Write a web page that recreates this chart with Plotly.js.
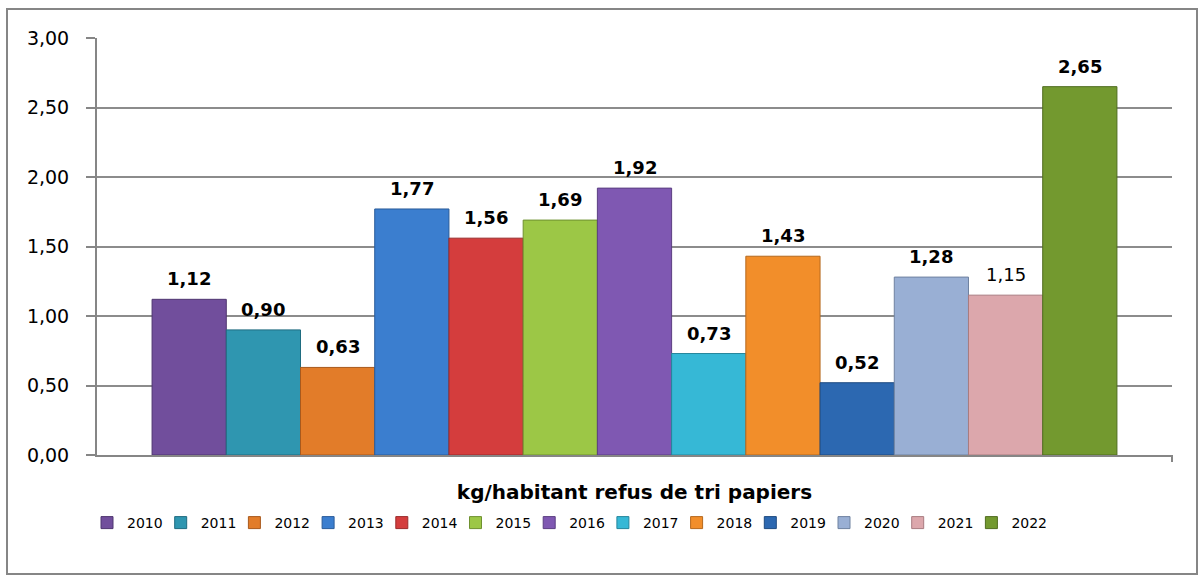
<!DOCTYPE html>
<html>
<head>
<meta charset="utf-8">
<script src="https://cdn.plot.ly/plotly-3.0.1.min.js"></script>
<style>
html,body{margin:0;padding:0;background:#fff;}
#chart{width:1201px;height:577px;}
</style>
</head>
<body>
<div id="chart"></div>
<script>
// Data
const chartTitle = "kg/habitant refus de tri papiers";
const years = ["2010","2011","2012","2013","2014","2015","2016","2017","2018","2019","2020","2021","2022"];
const values = [1.12, 0.90, 0.63, 1.77, 1.56, 1.69, 1.92, 0.73, 1.43, 0.52, 1.28, 1.15, 2.65];
const yTicks = [0, 0.5, 1, 1.5, 2, 2.5, 3];

// Styles
const barColors = ["#714e9c","#2f96b0","#e27c29","#3b7ecf","#d43d3d","#9cc746","#7f58b2","#36b8d6","#f28e2a","#2c68b1","#99afd4","#dca7ac","#73992f"];
const lineColors = ["#4f3670","#1f6c80","#a8591c","#2a5c9a","#9a2b2b","#6f9130","#5b3e82","#25869c","#b5681d","#1e4a80","#6f82a0","#a87c80","#516d20"];
const boldLabel = [true,true,true,true,true,true,true,true,true,true,true,false,true];

const FONT = "'DejaVu Sans', sans-serif";

const fmt = v => v.toFixed(2).replace(".", ",");

const traces = years.map((yr, i) => ({
  type: "bar",
  name: yr,
  x: [yr],
  y: [values[i]],
  width: 1,
  marker: { color: barColors[i], line: { color: lineColors[i], width: 1 } },
  hoverinfo: "skip"
}));

const annotations = years.map((yr, i) => ({
  x: i, y: values[i], xref: "x", yref: "y",
  text: boldLabel[i] ? "<b>" + fmt(values[i]) + "</b>" : fmt(values[i]),
  showarrow: false, yanchor: "bottom", xanchor: "center", yshift: 8,
  font: { family: FONT, size: 18, color: "#000" }
}));

const L = 97, R = 1172, T = 38, B = 455, W = 1201, H = 577;
const px = v => (v - L) / (R - L);
const py = v => (B - v) / (B - T);
const nCat = years.length;
const sidePad = 0.742;

const layout = {
  width: W, height: H,
  margin: { l: L, r: W - R, t: T, b: H - B, pad: 0 },
  paper_bgcolor: "#fff", plot_bgcolor: "#fff",
  separators: ", ",
  barmode: "overlay",
  bargap: 0,
  font: { family: FONT, size: 16, color: "#000" },
  xaxis: {
    type: "category",
    range: [-0.5 - sidePad, nCat - 0.5 + sidePad],
    showticklabels: false,
    showline: true, linecolor: "#868686", linewidth: 2,
    ticks: "",
    showgrid: false, zeroline: false,
    title: { text: "<b>" + chartTitle + "</b>", font: { family: FONT, size: 20, color: "#000" }, standoff: 29 },
    fixedrange: true
  },
  yaxis: {
    range: [0, 3],
    tickvals: yTicks,
    tickformat: ".2f",
    showline: true, linecolor: "#868686", linewidth: 2,
    ticks: "outside", ticklen: 9, tickcolor: "#868686", tickwidth: 2,
    showgrid: true, gridcolor: "#8c8c8c", gridwidth: 2,
    zeroline: false,
    ticklabelstandoff: 13,
    tickfont: { family: FONT, size: 19, color: "#000" },
    fixedrange: true
  },
  showlegend: true,
  legend: {
    orientation: "h",
    x: px(87), xanchor: "left",
    y: py(507), yanchor: "top",
    font: { family: FONT, size: 14, color: "#000" },
    itemwidth: 30,
    entrywidth: 28.7,
    traceorder: "normal",
    bgcolor: "rgba(0,0,0,0)"
  },
  annotations: annotations,
  shapes: [{
    type: "rect", xref: "paper", yref: "paper",
    x0: px(7), x1: px(1197), y0: py(574), y1: py(9),
    line: { color: "#868686", width: 2 }, fillcolor: "rgba(0,0,0,0)", layer: "below"
  }, {
    type: "line", xref: "paper", yref: "paper",
    x0: 1, x1: 1, ysizemode: "pixel", yanchor: 0, y0: 0, y1: -7,
    line: { color: "#868686", width: 2 }
  }]
};

Plotly.newPlot("chart", traces, layout, { displayModeBar: false, staticPlot: true });
</script>
</body>
</html>
